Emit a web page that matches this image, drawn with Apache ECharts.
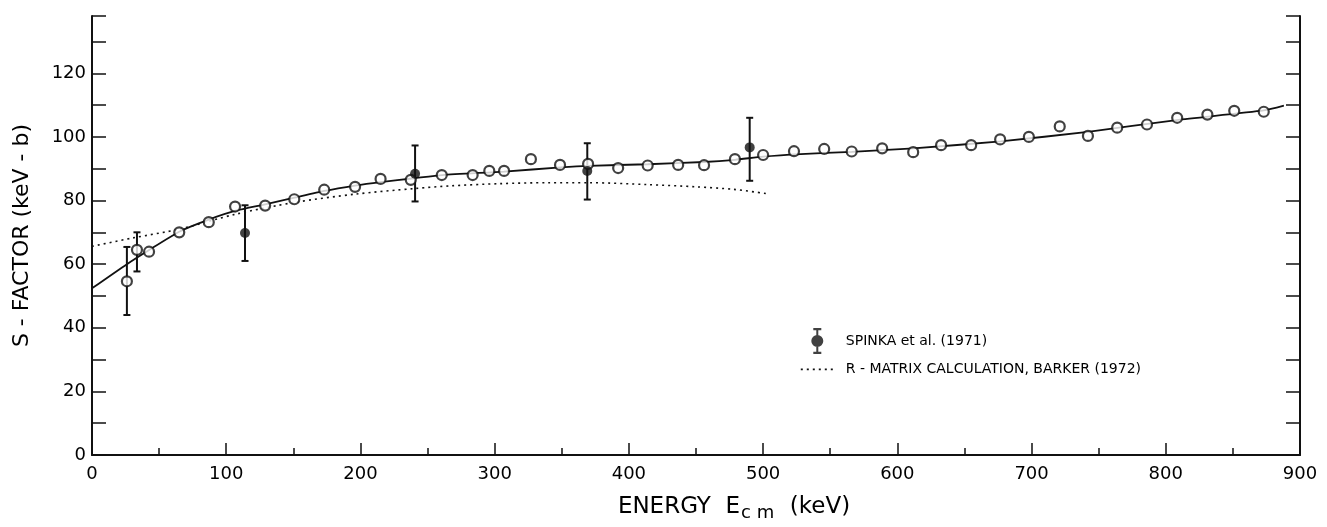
<!DOCTYPE html>
<html>
<head>
<meta charset="utf-8">
<title>S-factor</title>
<script src="https://cdn.jsdelivr.net/npm/echarts@6/dist/echarts.min.js"></script>
<style>
  html, body { margin: 0; padding: 0; background: #fff; }
  #chart { width: 1327px; height: 527px; }
</style>
</head>
<body>
<div id="chart"></div>
<script>
// open circles (present data)
var dataE = [26, 33.5, 42.5, 65, 87, 106.6, 129, 150.7, 173, 196, 215, 237.5, 260.6, 283.6, 296, 307, 327, 348.7,
  369.6, 392, 414, 436.7, 456, 479, 500, 523, 545.5, 566, 588.7, 611.8, 632.6, 655, 676.6, 698, 721, 742,
  763.8, 786, 808.5, 831, 851, 873];
var dataS = [54.6, 64.5, 63.9, 70, 73.2, 78.1, 78.4, 80.4, 83.4, 84.3, 86.8, 86.5, 88, 88, 89.3, 89.3, 93, 91.2,
  91.5, 90.2, 91, 91.2, 91.1, 93, 94.3, 95.5, 96.2, 95.4, 96.4, 95.2, 97.4, 97.4, 99.2, 100, 103.3, 100.3,
  102.9, 103.9, 106, 107, 108.2, 107.9];
// error bars on the two lowest open points
var dataErrE = [26, 33.5];
var dataErrLow = [44, 57.7];
var dataErrHigh = [65.4, 70];

// Spinka et al. (1971)
var spinkaE = [114, 240.7, 369, 490];
var spinkaS = [69.8, 88.4, 89.3, 96.7];
var spinkaLow = [61, 79.7, 80.3, 86.2];
var spinkaHigh = [78.5, 97.3, 98, 106];

// solid curve through the data
var fitE = [0, 26, 42, 65, 87, 107, 129, 150, 173, 196, 215, 240, 261, 307, 349, 370, 414, 456, 479, 500,
  528, 566, 612, 677, 742, 808, 873, 888];
var fitS = [52.4, 60, 64.3, 70.2, 74, 76.8, 78.8, 80.8, 83, 84.7, 85.8, 87, 88, 89.1, 90.4, 90.9, 91.4, 92.1,
  92.8, 93.8, 94.6, 95.3, 96.4, 98.6, 101.6, 105.3, 108.3, 109.8];

// R-matrix calculation, Barker (1972)
var rmatE = [0, 30, 65, 107, 151, 196, 241, 267, 304, 340, 370, 414, 450, 478, 502];
var rmatS = [65.6, 68.2, 71, 75.7, 79.4, 82, 83.8, 84.6, 85.3, 85.6, 85.6, 85, 84.3, 83.5, 82.2];

var FONT = 'DejaVu Sans';
var INK = '#111';

function zip() {
  var cols = arguments;
  return cols[0].map(function (v, i) {
    var row = [];
    for (var k = 0; k < cols.length; k++) row.push(cols[k][i]);
    return row;
  });
}

function renderErr(params, api) {
  var x = api.value(0);
  var lo = api.coord([x, api.value(1)]);
  var hi = api.coord([x, api.value(2)]);
  var cap = 3.5;
  var st = { stroke: INK, lineWidth: 2 };
  return {
    type: 'group',
    children: [
      { type: 'line', shape: { x1: lo[0], y1: lo[1], x2: hi[0], y2: hi[1] }, style: st },
      { type: 'line', shape: { x1: lo[0] - cap, y1: lo[1], x2: lo[0] + cap, y2: lo[1] }, style: st },
      { type: 'line', shape: { x1: hi[0] - cap, y1: hi[1], x2: hi[0] + cap, y2: hi[1] }, style: st }
    ]
  };
}

// error bar with a filled dot, for the legend
var spinkaIcon = 'path://M12.5,0H20.5V2.2H12.5Z M15.5,0H17.5V26H15.5Z M12.5,23.8H20.5V26H12.5Z ' +
  'M22.5,13A6,6 0 1 1 10.5,13A6,6 0 1 1 22.5,13Z';

var chart = echarts.init(document.getElementById('chart'));

var yAxisBase = {
  type: 'value', min: 0, max: 138, interval: 10,
  axisLine: { show: true, lineStyle: { color: INK, width: 2 } },
  axisTick: { show: true, inside: true, length: 14, lineStyle: { color: INK, width: 1.5 } },
  splitLine: { show: false }
};

chart.setOption({
  animation: false,
  backgroundColor: '#fff',
  grid: { left: 92, right: 27, top: 16, bottom: 66 },
  legend: {
    orient: 'vertical', left: 795, top: 323,
    itemWidth: 33, itemHeight: 26, itemGap: 5,
    selectedMode: false,
    textStyle: { fontFamily: FONT, fontSize: 14, color: '#000', padding: [0, 0, 0, 7] },
    data: [
      { name: 'SPINKA et al. (1971)', icon: spinkaIcon, itemStyle: { color: INK } },
      {
        name: 'R - MATRIX CALCULATION, BARKER (1972)',
        itemStyle: { color: 'rgba(0,0,0,0)', borderColor: 'rgba(0,0,0,0)', borderWidth: 0 },
        lineStyle: { color: INK, width: 1.6, type: [2, 4] }
      }
    ]
  },
  xAxis: {
    type: 'value', min: 0, max: 900, interval: 100,
    axisLine: { lineStyle: { color: INK, width: 2 } },
    axisTick: { inside: true, length: 12, lineStyle: { color: INK, width: 1.5 } },
    minorTick: { show: true, splitNumber: 2, length: 7, lineStyle: { color: INK, width: 1.5 } },
    splitLine: { show: false },
    axisLabel: { fontFamily: FONT, fontSize: 18, color: '#000', margin: 10 },
    name: '{a|ENERGY  E}{s|c m}{a|  (keV)}',
    nameLocation: 'middle', nameGap: 41,
    nameTextStyle: {
      padding: [0, 0, 0, 76],
      rich: {
        a: { fontFamily: FONT, fontSize: 23, color: '#000', lineHeight: 26, verticalAlign: 'top' },
        s: { fontFamily: FONT, fontSize: 18, color: '#000', lineHeight: 18, verticalAlign: 'bottom', padding: [16, 1, 0, 1] }
      }
    }
  },
  yAxis: [
    Object.assign({}, yAxisBase, {
      position: 'left',
      axisLabel: {
        fontFamily: FONT, fontSize: 18, color: '#000', margin: 6,
        formatter: function (v) { return (v % 20 === 0 && v <= 120) ? String(v) : ''; }
      },
      name: 'S - FACTOR (keV - b)',
      nameLocation: 'middle', nameGap: 59,
      nameTextStyle: { fontFamily: FONT, fontSize: 22, color: '#000' }
    }),
    Object.assign({}, yAxisBase, {
      position: 'right',
      axisLabel: { show: false }
    })
  ],
  series: [
    {
      name: 'fit', type: 'line', data: zip(fitE, fitS), smooth: 0.2,
      symbol: 'none', lineStyle: { color: INK, width: 1.8 }, z: 2
    },
    {
      name: 'R - MATRIX CALCULATION, BARKER (1972)', type: 'line', data: zip(rmatE, rmatS), smooth: 0.3,
      symbol: 'none', lineStyle: { color: INK, width: 1.6, type: [2, 4] }, z: 2
    },
    {
      name: 'errors', type: 'custom', renderItem: renderErr,
      encode: { x: 0, y: [1, 2] },
      data: zip(dataErrE, dataErrLow, dataErrHigh).concat(zip(spinkaE, spinkaLow, spinkaHigh)), z: 3
    },
    {
      name: 'data', type: 'scatter', data: zip(dataE, dataS), symbol: 'circle', symbolSize: 10,
      itemStyle: { color: '#fff', borderColor: INK, borderWidth: 2.2 }, z: 4
    },
    {
      name: 'SPINKA et al. (1971)', type: 'scatter', data: zip(spinkaE, spinkaS), symbol: 'circle',
      symbolSize: 10, symbolKeepAspect: true, itemStyle: { color: INK }, z: 5
    }
  ]
});
</script>
</body>
</html>
